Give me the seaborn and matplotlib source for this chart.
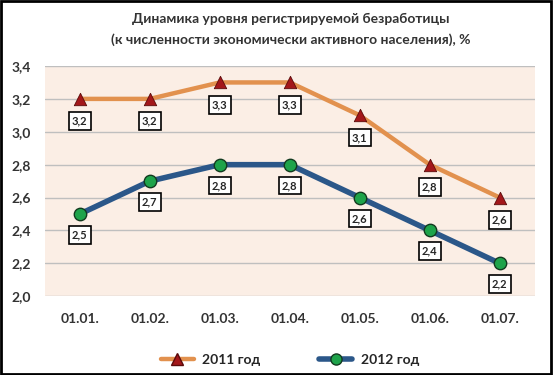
import matplotlib
matplotlib.use("Agg")
import matplotlib.pyplot as plt
import seaborn as sns
import pandas as pd
from matplotlib.lines import Line2D
from matplotlib.patches import Rectangle

dates = ["01.01.", "01.02.", "01.03.", "01.04.", "01.05.", "01.06.", "01.07."]
y2011 = [3.2, 3.2, 3.3, 3.3, 3.1, 2.8, 2.6]
y2012 = [2.5, 2.7, 2.8, 2.8, 2.6, 2.4, 2.2]
series_names = ["2011 год", "2012 год"]
yticks = [2.0, 2.2, 2.4, 2.6, 2.8, 3.0, 3.2, 3.4]

sns.set_theme(style="white")
plt.rcParams["font.family"] = ["Lato", "DejaVu Sans"]

df = pd.DataFrame({
    "date": dates * 2,
    "x": list(range(len(dates))) * 2,
    "value": y2011 + y2012,
    "series": [series_names[0]] * len(dates) + [series_names[1]] * len(dates),
})

fig = plt.figure(figsize=(5.53, 3.75), dpi=100)
ax = fig.add_axes([0.081, 0.21, 0.886, 0.614])
ax.set_facecolor("#fbeee5")

line_colors = {series_names[0]: "#e2914e", series_names[1]: "#2b5789"}
sns.lineplot(data=df[df.series == series_names[0]], x="x", y="value", color=line_colors[series_names[0]],
             linewidth=3.2, ax=ax, legend=False, sort=False)
sns.lineplot(data=df[df.series == series_names[1]], x="x", y="value", color=line_colors[series_names[1]],
             linewidth=4, ax=ax, legend=False, sort=False)

d11 = df[df.series == series_names[0]]
d12 = df[df.series == series_names[1]]
ax.scatter(d11.x, d11.value, marker="^", s=80, color="#a3171a", edgecolor="#5a0a0a", linewidth=0.6, zorder=5)
ax.scatter(d12.x, d12.value, marker="o", s=80, color="#1ea34a", edgecolor="#123a1f", linewidth=1.0, zorder=5)

box = dict(boxstyle="square,pad=0.3", fc="white", ec="black", lw=1.2)
for xi, v in zip(d11.x, d11.value):
    ax.annotate(f"{v:.1f}".replace(".", ","), (xi, v), xytext=(0, -16), textcoords="offset points",
                ha="center", va="center", fontsize=8, fontweight="bold", bbox=box, zorder=6)
for xi, v in zip(d12.x, d12.value):
    ax.annotate(f"{v:.1f}".replace(".", ","), (xi, v), xytext=(0, -15), textcoords="offset points",
                ha="center", va="center", fontsize=8, fontweight="bold", bbox=box, zorder=6)

ax.set_xlim(-0.5, 6.5)
ax.set_ylim(2.0, 3.4)
ax.set_yticks(yticks)
ax.set_yticklabels([f"{t:.1f}".replace(".", ",") for t in yticks], fontsize=10, fontweight="bold", color="#333333")
ax.set_xticks(range(len(dates)))
ax.set_xticklabels(dates, fontsize=10, fontweight="bold", color="#333333")
ax.tick_params(axis="both", length=0, pad=12)
ax.tick_params(axis="y", pad=10)
ax.grid(axis="y", color="#bfbfbf", linewidth=1)
ax.set_axisbelow(True)
for s in ax.spines.values():
    s.set_visible(False)
ax.set_xlabel("")
ax.set_ylabel("")

fig.text(0.525, 0.95, "Динамика уровня регистрируемой безработицы", ha="center", va="center",
         fontsize=10, fontweight="bold", color="#333333")
fig.text(0.525, 0.893, "(к численности экономически активного населения), %", ha="center", va="center",
         fontsize=10, fontweight="bold", color="#333333")

handles = [
    Line2D([0], [0], color=line_colors[series_names[0]], lw=3.2, marker="^", markersize=8,
           markerfacecolor="#a3171a", markeredgecolor="#5a0a0a"),
    Line2D([0], [0], color=line_colors[series_names[1]], lw=4, marker="o", markersize=8,
           markerfacecolor="#1ea34a", markeredgecolor="#123a1f"),
]
fig.legend(handles, series_names, loc="center", bbox_to_anchor=(0.524, 0.04), ncol=2, frameon=False,
           prop={"size": 10, "weight": "bold"}, handlelength=2.4, columnspacing=4.2, handletextpad=0.6)

fig.add_artist(Rectangle((0.002, 0.003), 0.995, 0.994, transform=fig.transFigure, fill=False,
                         ec="black", lw=2))

fig.savefig("out.png", dpi=100)
